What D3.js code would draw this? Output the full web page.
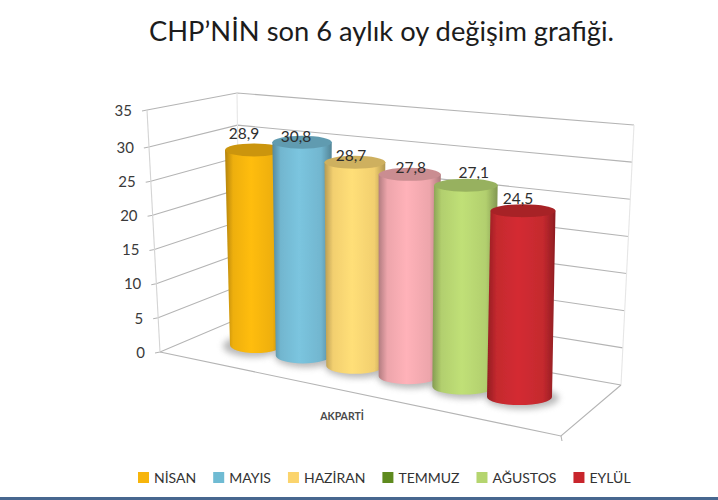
<!DOCTYPE html>
<html>
<head>
<meta charset="utf-8">
<script src="https://cdn.jsdelivr.net/npm/d3@7"></script>
<style>
  html, body { margin: 0; padding: 0; background: #fff; }
  svg { display: block; font-family: Lato, sans-serif; }
</style>
</head>
<body>
<svg width="718" height="500"></svg>
<script>
const title = 'CHP’NİN son 6 aylık oy değişim grafiği.';
const axisTitle = 'AKPARTİ';
const votes = [28.9, 30.8, 28.7, 27.8, 27.1, 24.5];
const legendMonths = ['NİSAN', 'MAYIS', 'HAZİRAN', 'TEMMUZ', 'AĞUSTOS', 'EYLÜL'];
const legendColors = ['#F7B50C', '#6FBBD3', '#FBD46D', '#5E8A1E', '#B5D56F', '#C8252C'];
const barColors = ['#F7B50C', '#76BDD6', '#FBD673', '#F6ABB1', '#B8D772', '#CB2A30'];
const yTicks = [0, 5, 10, 15, 20, 25, 30, 35];

let svg = d3.select('svg');
let defs = svg.append('defs');

defs.append('filter').attr('id', 'soft')
  .append('feGaussianBlur').attr('stdDeviation', 0.5);
defs.append('filter').attr('id', 'shadow')
  .attr('x', '-30%').attr('y', '-60%').attr('width', '160%').attr('height', '220%')
  .append('feGaussianBlur').attr('stdDeviation', 3);

// the corners of the 3d box, each edge has its own value scale
let frontY = d3.scaleLinear().domain([0, 30, 35]).range([352, 147, 110]);
let frontX = d3.scaleLinear().domain([0, 35]).range([160, 147]);
let cornerY = d3.scaleLinear().domain([0, 35]).range([318, 93]);
let cornerX = d3.scaleLinear().domain([0, 35]).range([240, 237]);
let backY = d3.scaleLinear().domain([0, 35]).range([385, 125]);
let backX = d3.scaleLinear().domain([0, 35]).range([621, 634]);

let grid = svg.append('g').attr('fill', 'none').attr('stroke', '#b4b4b4').attr('stroke-width', 1.1);

yTicks.forEach(t => {
  grid.append('path')
    .attr('d', d3.line()([
      [frontX(t) - 5, frontY(t) + 1],
      [frontX(t), frontY(t)],
      [cornerX(t), cornerY(t)],
      [backX(t), backY(t)]
    ]));
});

grid.append('path').attr('stroke', '#d4d4d4')
  .attr('d', d3.line()([[frontX(0), frontY(0)], [frontX(35), frontY(35)]]));
grid.append('path').attr('stroke', '#e6e6e6')
  .attr('d', d3.line()([[cornerX(0), cornerY(0)], [cornerX(35), cornerY(35)]]));
grid.append('path').attr('stroke', '#e6e6e6')
  .attr('d', d3.line()([[backX(0), backY(0)], [backX(35), backY(35)]]));
// floor
grid.append('path')
  .attr('d', d3.line()([[frontX(0), frontY(0)], [561, 436], [backX(0), backY(0)]]));
grid.append('path')
  .attr('d', d3.line()([[561, 436], [562, 441]]));

svg.append('g').selectAll('text').data(yTicks).join('text')
  .attr('x', d => frontX(d) - 15)
  .attr('y', d => frontY(d) + 2)
  .attr('text-anchor', 'end')
  .attr('dominant-baseline', 'middle')
  .attr('font-size', 15)
  .attr('fill', '#3a3a3a')
  .text(d => d);

// depth goes from the back bar to the front bar
let depth = d3.scalePoint().domain(d3.range(votes.length)).range([0, 1]);
let topCx = d3.scalePow().exponent(1.07).domain([0, 1]).range([254, 523]);
let baseCx = d3.scalePow().exponent(1.07).domain([0, 1]).range([256, 519.5]);
let baseCy = d3.scaleLinear().domain([0, 1]).range([345, 397]);
let topR = d3.scaleLinear().domain([0, 1]).range([29, 32.5]);
let baseR = d3.scaleLinear().domain([0, 1]).range([26, 32.5]);
let unit = d3.scaleLinear().domain([0, 1]).range([6.75, 7.6]);

let labelNudge = [[-10, -15], [-6, -4], [-4, -5], [1, -5], [8, -11], [-5, -11]];

barColors.forEach((c, i) => {
  let g = defs.append('linearGradient').attr('id', 'bar' + i);
  let base = d3.color(c);
  g.append('stop').attr('offset', '0%').attr('stop-color', base.darker(0.9));
  g.append('stop').attr('offset', '14%').attr('stop-color', base.darker(0.1));
  g.append('stop').attr('offset', '45%').attr('stop-color', base.brighter(0.12));
  g.append('stop').attr('offset', '82%').attr('stop-color', base.darker(0.1));
  g.append('stop').attr('offset', '100%').attr('stop-color', base.darker(1));
});

let bars = svg.append('g');

votes.forEach((v, i) => {
  let t = depth(i);
  let rb = baseR(t), rt = topR(t);
  let xb = baseCx(t), xt = topCx(t);
  let yb = baseCy(t), yt = yb - v * unit(t);
  let ryb = 8, ryt = 6.5;

  bars.append('ellipse')
    .attr('cx', xb + (i === 0 ? -3 : 3)).attr('cy', yb + 1)
    .attr('rx', rb + 4).attr('ry', ryb + 3)
    .attr('fill', '#8c8c8c').attr('opacity', 0.6)
    .attr('filter', 'url(#shadow)');

  let g = bars.append('g').attr('filter', 'url(#soft)');
  g.append('path')
    .attr('d', `M${xt - rt},${yt} L${xb - rb},${yb} A${rb},${ryb} 0 0 0 ${xb + rb},${yb} L${xt + rt},${yt} Z`)
    .attr('fill', `url(#bar${i})`);
  g.append('ellipse')
    .attr('cx', xt).attr('cy', yt)
    .attr('rx', rt).attr('ry', ryt)
    .attr('fill', d3.color(barColors[i]).darker(0.55));

  bars.append('text')
    .attr('x', xt + labelNudge[i][0])
    .attr('y', yt + labelNudge[i][1])
    .attr('text-anchor', 'middle')
    .attr('dominant-baseline', 'middle')
    .attr('font-size', 15.5)
    .attr('fill', '#2e2e2e')
    .text(String(v).replace('.', ','));
});

svg.append('text')
  .attr('x', 342).attr('y', 420)
  .attr('text-anchor', 'middle')
  .attr('font-size', 10.5)
  .attr('font-weight', 700)
  .attr('fill', '#4a4a4a')
  .text(axisTitle);

svg.append('text')
  .attr('x', 381.5).attr('y', 41)
  .attr('text-anchor', 'middle')
  .attr('font-size', 27.3)
  .attr('fill', '#1c1c1c')
  .text(title);

// legend, laid out from the measured text widths
let legend = svg.append('g');
let lx = 138;
legendMonths.forEach((m, i) => {
  legend.append('rect')
    .attr('x', lx).attr('y', 472)
    .attr('width', 11).attr('height', 11)
    .attr('fill', legendColors[i]);
  let label = legend.append('text')
    .attr('x', lx + 16).attr('y', 483)
    .attr('font-size', 14)
    .attr('fill', '#333')
    .text(m);
  lx += 16 + label.node().getComputedTextLength() + 17;
});

svg.append('rect')
  .attr('x', 0).attr('y', 497)
  .attr('width', 718).attr('height', 3)
  .attr('fill', '#47678F');
</script>
</body>
</html>
